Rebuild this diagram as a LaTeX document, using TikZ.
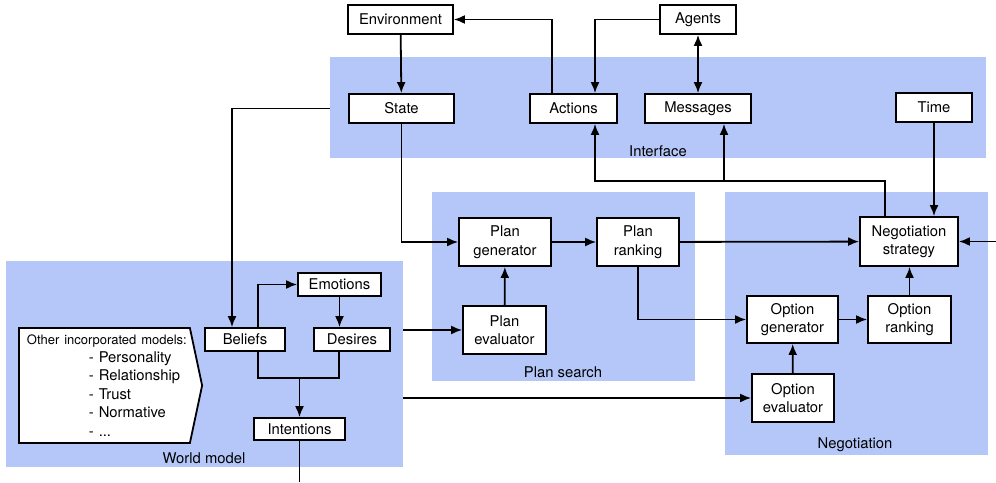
\documentclass[tikz,border=0pt]{standalone}
\usepackage{fontspec}
\setmainfont{TeX Gyre Heros}
\usepackage{tikz}
\usetikzlibrary{arrows,arrows.meta,shapes,shapes.symbols,calc}
\definecolor{regionblue}{RGB}{180,199,248}

\begin{document}
\begin{tikzpicture}[x=1pt,y=-1pt,>={Latex[length=11pt,width=9pt]}]
\tikzset{
	region node/.style = {rectangle, fill = regionblue, inner sep = 0},
	box node/.style = {rectangle, draw, fill = white, line width = 1.8pt, inner sep = 0, align = center},
	label node/.style = {inner sep = 0},
	flow/.style = {line width = 1.8pt},
}
\useasboundingbox (0,0) rectangle (996,482);
\fontsize{14.8}{18.5}\selectfont
% regions
\node(iface)[region node, minimum width = 656, minimum height = 101] at (658,107.5){};
\node(psearch)[region node, minimum width = 263, minimum height = 189] at (563.5,286.5){};
\node(nego)[region node, minimum width = 263, minimum height = 263] at (856.5,323.5){};
\node(wmodel)[region node, minimum width = 397, minimum height = 206] at (204.5,364){};
\node(ifacelabel)[label node] at (658,151){Interface};
\node(psearchlabel)[label node] at (563,372){Plan search};
\node(negolabel)[label node] at (855,445){Negotiation};
\node(wmodellabel)[label node] at (204,458){World model};
% boxes
\node(env)[box node, minimum width = 105, minimum height = 29] at (400.5,19.5){Environment};
\node(agents)[box node, minimum width = 76, minimum height = 29] at (698,19.5){Agents};
\node(state)[box node, minimum width = 105, minimum height = 29] at (401.5,108.5){State};
\node(actions)[box node, minimum width = 87, minimum height = 29] at (573.5,108.5){Actions};
\node(msgs)[box node, minimum width = 106, minimum height = 29] at (698,108.5){Messages};
\node(time)[box node, minimum width = 76, minimum height = 29] at (934,107.5){Time};
\node(nstrat)[box node, minimum width = 98, minimum height = 49] at (909,241.5){Negotiation\\strategy};
\node(ogen)[box node, minimum width = 91, minimum height = 47] at (792.5,319.5){Option\\generator};
\node(orank)[box node, minimum width = 83, minimum height = 47] at (909.5,319.5){Option\\ranking};
\node(oeval)[box node, minimum width = 82, minimum height = 48] at (793,398){Option\\evaluator};
\node(pgen)[box node, minimum width = 92, minimum height = 48] at (505,242){Plan\\generator};
\node(prank)[box node, minimum width = 82, minimum height = 48] at (638,242){Plan\\ranking};
\node(peval)[box node, minimum width = 83, minimum height = 48] at (504.5,330){Plan\\evaluator};
\node(emo)[box node, minimum width = 83, minimum height = 23] at (339.5,284.5){Emotions};
\node(beliefs)[box node, minimum width = 80, minimum height = 23] at (245,339.5){Beliefs};
\node(desires)[box node, minimum width = 76, minimum height = 23] at (352,339.5){Desires};
\node(intent)[box node, minimum width = 91, minimum height = 22] at (299.5,429){Intentions};
\node(others)[box node, signal, signal to = east, signal pointer angle = 156,
	minimum height = 115, text width = 155, inner xsep = 8, align = left, anchor = west]
	at (18,385.5){\mbox{\fontsize{13}{18}\selectfont Other incorporated models:}\\[-1pt]
	\hspace*{62pt}- Personality\\ \hspace*{62pt}- Relationship\\ \hspace*{62pt}- Trust\\
	\hspace*{62pt}- Normative\\ \hspace*{62pt}- ...};
% helper points
\coordinate(bend) at (885,181);
\coordinate(mj) at ([xshift = 26]msgs.south);
\coordinate(rin) at (996,241.5);
\coordinate(merge) at (299.5,378);
\coordinate(out) at (299.5,482);
% connectors
\draw[flow,->] (env) -- (state);
\draw[flow,->] ([xshift = -21.5]actions.north) |- (env);
\draw[flow,->] (agents) -| ([xshift = 21.5]actions.north);
\draw[flow,<->] (agents) -- (msgs);
\draw[flow,->] ([xshift = -24]nstrat.north) |- (bend) -| ([xshift = 21.5]actions.south);
\draw[flow,->] (mj |- bend) -- (mj);
\draw[flow,->] (time) -- (time.south |- nstrat.north);
\draw[flow,->] (rin) -- (nstrat);
\draw[flow,->] (prank) -- (nstrat);
\draw[flow,->] (pgen) -- (prank);
\draw[flow,->] (state) |- (pgen);
\draw[flow,->] (peval) -- (pgen);
\draw[flow,->] (peval.west -| wmodel.east) -- (peval);
\draw[flow,->] (oeval.west -| wmodel.east) -- (oeval);
\draw[flow,->] (prank) |- (ogen);
\draw[flow,->] (ogen) -- (orank);
\draw[flow,->] (orank) -- (orank |- nstrat.south);
\draw[flow,->] (oeval) -- (ogen);
\draw[flow,->] (state.west -| iface.west) -| ([xshift = -13]beliefs.north);
\draw[flow,->] ([xshift = 13]beliefs.north) |- (emo);
\draw[flow,->] (emo) -- (emo |- desires.north);
\draw[flow] ([xshift = 13]beliefs.south) |- (merge) -| ([xshift = -13]desires.south);
\draw[flow,->] (merge) -- (intent);
\draw[flow] (intent) -- (out);
\end{tikzpicture}
\end{document}
